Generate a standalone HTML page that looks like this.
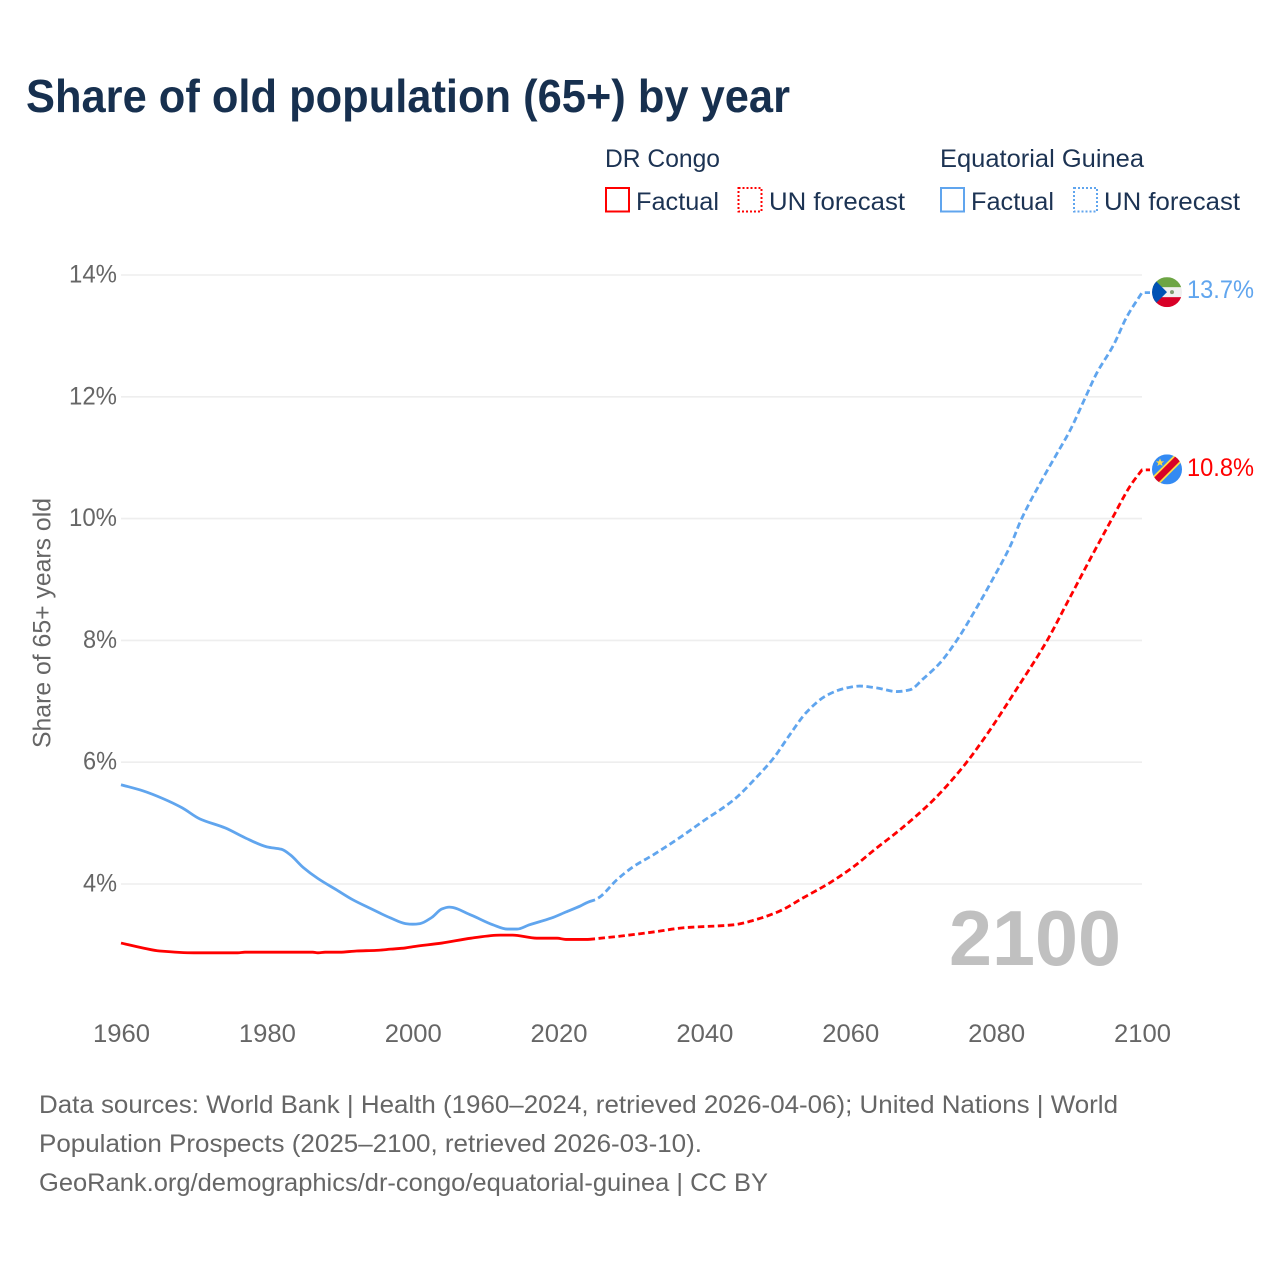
<!DOCTYPE html>
<html lang="en">
<head>
<meta charset="utf-8">
<title>Share of old population (65+) by year</title>
<style>
html,body{margin:0;padding:0;background:#fff;width:1280px;height:1280px;overflow:hidden}
svg{display:block}
text{font-family:"Liberation Sans",sans-serif}
</style>
</head>
<body>
<svg id="chart" xmlns="http://www.w3.org/2000/svg" width="1280" height="1280" viewBox="0 0 1280 1280">
  <defs>
    <clipPath id="flag-clip"><circle cx="0" cy="0" r="15"/></clipPath>
  </defs>
  <rect x="0" y="0" width="1280" height="1280" fill="#fff"/>
  <text x="26" y="112" font-size="46" font-weight="700" fill="#17304f" textLength="764" lengthAdjust="spacingAndGlyphs">Share of old population (65+) by year</text>

  <g font-size="25" fill="#1c3353">
    <text x="605" y="167" textLength="115" lengthAdjust="spacingAndGlyphs">DR Congo</text>
    <rect x="606" y="188" width="23" height="23.5" fill="none" stroke="#ff0000" stroke-width="2"/>
    <text x="636" y="210" textLength="83" lengthAdjust="spacingAndGlyphs">Factual</text>
    <rect x="738.500" y="188" width="23" height="23.5" fill="none" stroke="#ff0000" stroke-width="2" stroke-dasharray="2 2"/>
    <text x="769" y="210" textLength="136" lengthAdjust="spacingAndGlyphs">UN forecast</text>
    <text x="940" y="167" textLength="204" lengthAdjust="spacingAndGlyphs">Equatorial Guinea</text>
    <rect x="941" y="188" width="23" height="23.5" fill="none" stroke="#60a5ee" stroke-width="2"/>
    <text x="971" y="210" textLength="83" lengthAdjust="spacingAndGlyphs">Factual</text>
    <rect x="1074" y="188" width="23" height="23.5" fill="none" stroke="#60a5ee" stroke-width="2" stroke-dasharray="2 2"/>
    <text x="1104" y="210" textLength="136" lengthAdjust="spacingAndGlyphs">UN forecast</text>
  </g>

  <g id="grid"></g>
  <g id="y-ticks"></g>
  <g id="x-ticks"></g>

  <text transform="translate(50.500,748) rotate(-90)" font-size="25" fill="#666666" textLength="250" lengthAdjust="spacingAndGlyphs">Share of 65+ years old</text>
  <text x="1121" y="965" text-anchor="end" font-size="78" font-weight="700" fill="#c0c0c0" textLength="172" lengthAdjust="spacingAndGlyphs">2100</text>

  <g id="series"></g>

  <g id="flag-eg">
    <g clip-path="url(#flag-clip)">
      <rect x="-15" y="-15" width="30" height="30" fill="#f0f0f0"/>
      <rect x="-15" y="-15" width="30" height="10" fill="#6da544"/>
      <rect x="-15" y="5" width="30" height="10" fill="#d80027"/>
      <polygon points="-15,-15 -11,-11 0,0 -11,11 -15,15" fill="#0052b4"/>
      <circle cx="5" cy="0" r="2" fill="#7f9a70"/>
    </g>
  </g>
  <g id="flag-dr">
    <g clip-path="url(#flag-clip)">
      <rect x="-15" y="-15" width="30" height="30" fill="#338af3"/>
      <line x1="-15" y1="15" x2="15" y2="-15" stroke="#ffda44" stroke-width="10"/>
      <line x1="-15" y1="15" x2="15" y2="-15" stroke="#d80027" stroke-width="6.500"/>
      <polygon points="-7,-11 -5.800,-8 -2.800,-8 -5.200,-6.200 -4.400,-3.400 -7,-5 -9.600,-3.400 -8.800,-6.200 -11.200,-8 -8.200,-8" fill="#ffda44"/>
    </g>
  </g>
  <text id="label-eg" x="1187" font-size="25" fill="#60a5ee" textLength="67" lengthAdjust="spacingAndGlyphs"></text>
  <text id="label-dr" x="1187" font-size="25" fill="#ff0000" textLength="67" lengthAdjust="spacingAndGlyphs"></text>

  <g font-size="25" fill="#666666">
    <text x="39" y="1113" textLength="1079" lengthAdjust="spacingAndGlyphs">Data sources: World Bank | Health (1960–2024, retrieved 2026-04-06); United Nations | World</text>
    <text x="39" y="1152" textLength="663" lengthAdjust="spacingAndGlyphs">Population Prospects (2025–2100, retrieved 2026-03-10).</text>
    <text x="39" y="1191" textLength="729" lengthAdjust="spacingAndGlyphs">GeoRank.org/demographics/dr-congo/equatorial-guinea | CC BY</text>
  </g>
</svg>

<script>
const xTicks = [1960, 1980, 2000, 2020, 2040, 2060, 2080, 2100];
const yTicks = [4, 6, 8, 10, 12, 14];

const egFactualYears = [1960,1963,1965.8,1968.4,1970.8,1974.3,1977,1980,1982,1983.2,1985,1987,1989.6,1991.8,1994,1997,1999,2000,2001,2002.6,2004,2005,2008,2011,2013,2014.3,2016,2019,2021,2023,2024,2025];
const egFactualShare = [5.63,5.53,5.40,5.25,5.07,4.92,4.76,4.61,4.57,4.48,4.27,4.09,3.90,3.74,3.61,3.44,3.35,3.34,3.35,3.45,3.59,3.62,3.49,3.33,3.26,3.26,3.33,3.44,3.54,3.64,3.70,3.74];

const egForecastYears = [2025,2025.7,2028,2030.2,2033,2036.6,2039.8,2044,2047.2,2049.5,2051.7,2054,2056.8,2059.5,2061.3,2063.6,2066.4,2068.2,2070,2072.3,2074.6,2077.1,2079.6,2081.9,2083.5,2086.4,2088.3,2090.1,2092.2,2093.8,2096.1,2097.9,2100];
const egForecastShare = [3.74,3.79,4.07,4.28,4.48,4.76,5.03,5.38,5.76,6.07,6.45,6.82,7.10,7.22,7.25,7.22,7.16,7.19,7.37,7.63,8.00,8.49,9.02,9.54,10.00,10.66,11.06,11.44,11.98,12.39,12.85,13.31,13.71];

const drFactualYears = [1960,1963,1965.3,1970,1976,1977,1986.3,1987,1988,1990,1992.3,1995,1997,1999,2000,2004,2008,2012,2013.7,2017,2019.8,2021,2024,2025];
const drFactualShare = [3.03,2.95,2.90,2.87,2.87,2.88,2.88,2.87,2.88,2.88,2.90,2.91,2.93,2.95,2.97,3.03,3.11,3.16,3.16,3.11,3.11,3.09,3.09,3.10];

const drForecastYears = [2025,2028.9,2033.5,2037,2044,2047.2,2050.4,2053.5,2057.2,2060.4,2063.6,2066.8,2071.4,2075.5,2078.7,2082.8,2087,2089.7,2093,2095.9,2098.4,2100];
const drForecastShare = [3.10,3.15,3.22,3.28,3.33,3.42,3.56,3.77,4.02,4.28,4.59,4.89,5.38,5.93,6.45,7.20,8.00,8.61,9.36,10.00,10.54,10.80];

const NS = 'http://www.w3.org/2000/svg';
const xScale = function (year) { return 121 + (year - 1960) * (1142 - 121) / 140; };
const yScale = function (share) { return 884 - (share - 4) * 60.9; };

/* Monotone cubic path so the curve stays smooth without overshoot */
function linePath(years, shares) {
  const px = years.map(xScale);
  const py = shares.map(yScale);
  const n = px.length;
  const slope = [];
  for (let i = 0; i < n - 1; i++) slope.push((py[i + 1] - py[i]) / (px[i + 1] - px[i]));
  const tan = [slope[0]];
  for (let i = 1; i < n - 1; i++) {
    tan.push(slope[i - 1] * slope[i] <= 0 ? 0 : 2 * slope[i - 1] * slope[i] / (slope[i - 1] + slope[i]));
  }
  tan.push(slope[n - 2]);
  let d = 'M' + px[0].toFixed(2) + ' ' + py[0].toFixed(2);
  for (let i = 0; i < n - 1; i++) {
    const h = (px[i + 1] - px[i]) / 3;
    d += 'C' + (px[i] + h).toFixed(2) + ' ' + (py[i] + tan[i] * h).toFixed(2) + ' ' +
         (px[i + 1] - h).toFixed(2) + ' ' + (py[i + 1] - tan[i + 1] * h).toFixed(2) + ' ' +
         px[i + 1].toFixed(2) + ' ' + py[i + 1].toFixed(2);
  }
  return d;
}

const gridGroup = document.getElementById('grid');
const yTickGroup = document.getElementById('y-ticks');
const xTickGroup = document.getElementById('x-ticks');
const seriesGroup = document.getElementById('series');

yTicks.forEach(function (tick) {
  const line = document.createElementNS(NS, 'line');
  
  
  line.setAttribute('x1', xScale(1960));
  line.setAttribute('x2', xScale(2100));
  line.setAttribute('y1', yScale(tick));
  line.setAttribute('y2', yScale(tick));
  line.setAttribute('stroke', '#eeeeee');
  line.setAttribute('stroke-width', '1.6');
  gridGroup.appendChild(line);

  const label = document.createElementNS(NS, 'text');
  
  
  label.setAttribute('x', 117);
  label.setAttribute('y', yScale(tick) + 7.5);
  label.setAttribute('text-anchor', 'end');
  label.setAttribute('font-size', '25');
  label.setAttribute('fill', '#666666');
  label.textContent = tick + '%';
  label.setAttribute('textLength', tick >= 10 ? 48 : 34);
  label.setAttribute('lengthAdjust', 'spacingAndGlyphs');
  yTickGroup.appendChild(label);
});

xTicks.forEach(function (tick) {
  const label = document.createElementNS(NS, 'text');
  
  
  label.setAttribute('x', xScale(tick) + 0.5);
  label.setAttribute('y', 1042);
  label.setAttribute('text-anchor', 'middle');
  label.setAttribute('font-size', '25');
  label.setAttribute('fill', '#666666');
  label.setAttribute('textLength', 57);
  label.setAttribute('lengthAdjust', 'spacingAndGlyphs');
  label.textContent = tick;
  xTickGroup.appendChild(label);
});

function addLine(name, years, shares, colour, dashed, leaderTo) {
  const path = document.createElementNS(NS, 'path');
  
  
  let d = linePath(years, shares);
  if (leaderTo) d += 'L' + leaderTo + ' ' + yScale(shares[shares.length - 1]).toFixed(2);
  path.setAttribute('d', d);
  path.setAttribute('fill', 'none');
  path.setAttribute('stroke', colour);
  path.setAttribute('stroke-width', '2.8');
  path.setAttribute('stroke-linejoin', 'round');
  if (dashed) {
    path.setAttribute('stroke-dasharray', '6.5 3.5');
    path.setAttribute('stroke-dashoffset', '6.5');
  }
  seriesGroup.appendChild(path);
}

addLine('equatorial-guinea-factual-line', egFactualYears, egFactualShare, '#60a5ee', false);
addLine('equatorial-guinea-forecast-line', egForecastYears, egForecastShare, '#60a5ee', true, 1150);
addLine('dr-congo-factual-line', drFactualYears, drFactualShare, '#ff0000', false);
addLine('dr-congo-forecast-line', drForecastYears, drForecastShare, '#ff0000', true, 1150);

const egLast = egForecastShare[egForecastShare.length - 1];
const drLast = drForecastShare[drForecastShare.length - 1];
document.getElementById('flag-eg').setAttribute('transform', 'translate(1167,' + (yScale(egLast) - 0.5).toFixed(2) + ')');
document.getElementById('flag-dr').setAttribute('transform', 'translate(1167,' + (yScale(drLast) - 0.5).toFixed(2) + ')');
const egLabel = document.getElementById('label-eg');
egLabel.setAttribute('y', (yScale(egLast) + 5.5).toFixed(2));
egLabel.textContent = egLast.toFixed(1) + '%';
const drLabel = document.getElementById('label-dr');
drLabel.setAttribute('y', (yScale(drLast) + 6).toFixed(2));
drLabel.textContent = drLast.toFixed(1) + '%';
</script>
</body>
</html>
